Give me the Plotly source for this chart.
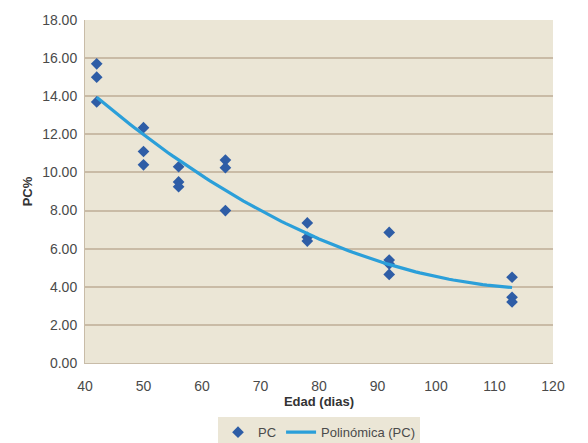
import numpy as np
import plotly.graph_objects as go

edad = [42, 42, 42, 50, 50, 50, 56, 56, 56, 64, 64, 64, 78, 78, 78, 92, 92, 92, 92, 113, 113, 113]
pc = [15.7, 15.0, 13.7, 12.35, 11.1, 10.4, 10.3, 9.5, 9.25, 10.65, 10.25, 8.0,
      7.35, 6.6, 6.4, 6.85, 5.4, 5.2, 4.65, 4.5, 3.45, 3.2]

x_ticks = list(range(40, 121, 10))
y_ticks = [0, 2, 4, 6, 8, 10, 12, 14, 16, 18]

coef = np.polyfit(edad, pc, 2)
xs = np.linspace(min(edad), max(edad), 100)
ys = np.polyval(coef, xs)

fig = go.Figure()
fig.add_trace(go.Scatter(x=edad, y=pc, mode="markers", name="PC",
                         marker=dict(symbol="diamond", size=9, color="#2e5da6")))
fig.add_trace(go.Scatter(x=xs, y=ys, mode="lines", name="Polinómica (PC)",
                         line=dict(color="#2b9fd9", width=3.2)))

fig.update_layout(
    width=588, height=443,
    margin=dict(l=85, r=35, t=20, b=80, autoexpand=False),
    paper_bgcolor="white",
    plot_bgcolor="#ebe6d6",
    font=dict(family="Liberation Sans, Arial", size=14, color="#4a4a4a"),
    showlegend=True,
    legend=dict(orientation="h", x=0.5, xanchor="center", y=-0.158, yanchor="top",
                bgcolor="#ebe6d6", font=dict(size=13, color="#4a4a4a"),
                itemwidth=30, tracegroupgap=0),
)
fig.update_xaxes(range=[40, 120], tickvals=x_ticks, showgrid=False, zeroline=False,
                 showline=True, linecolor="#c8bca8", ticks="", ticklabelstandoff=10,
                 automargin=False,
                 title=dict(text="<b>Edad (dias)</b>", font=dict(size=13, color="#333333"), standoff=2))
fig.update_yaxes(range=[0, 18], tickvals=y_ticks, tickformat=".2f", showgrid=True,
                 gridcolor="#c9bba6", gridwidth=1.5, zeroline=False,
                 showline=True, linecolor="#c8bca8", ticks="", ticklabelstandoff=4,
                 automargin=False,
                 title=dict(text="<b>PC%</b>", font=dict(size=13, color="#333333"), standoff=6))

fig.write_html("out.html")
